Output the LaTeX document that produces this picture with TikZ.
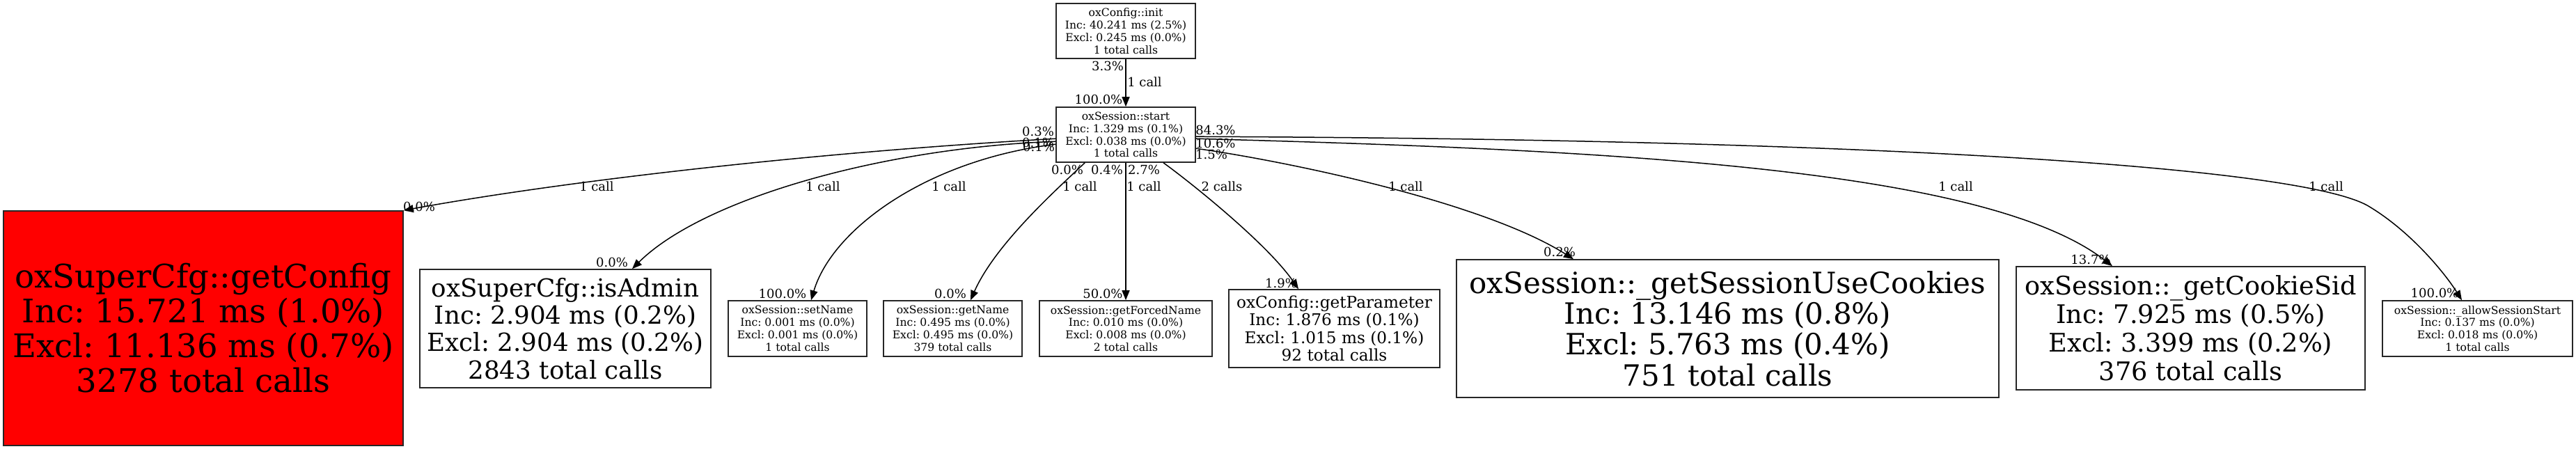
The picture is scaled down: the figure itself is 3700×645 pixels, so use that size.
\documentclass[tikz,border=0pt]{standalone}
\usepackage{fontspec}
\setmainfont{DejaVu Serif}
\frenchspacing
\usetikzlibrary{arrows.meta,calc}
\tikzset{
  box/.style={draw=black!85, line width=1.6pt, inner sep=0pt, align=center, anchor=center},
  fsmall/.style={font=\fontsize{15.6}{17.8}\selectfont},
  fparam/.style={font=\fontsize{23.2}{25.5}\selectfont},
  fcookie/.style={font=\fontsize{36.7}{41}\selectfont},
  fsuc/.style={font=\fontsize{42}{44.4}\selectfont},
  fadmin/.style={font=\fontsize{35.7}{39.3}\selectfont},
  fcfg/.style={font=\fontsize{46.6}{50}\selectfont},
  lbl/.style={font=\fontsize{18}{18}\selectfont, inner sep=0pt, anchor=center},
  edge/.style={line width=1.5pt, -{Triangle[length=14pt,width=11pt]}},
}
\begin{document}
\begin{tikzpicture}[x=1pt,y=-1pt]
\useasboundingbox (0,0) rectangle (3700,645);
\fill[white] (0,0) rectangle (3700,645);
% nodes
\node[box,fsmall,minimum width=200pt,minimum height=79pt] (init) at (1617,44.5)
  {oxConfig::init\\Inc: 40.241 ms (2.5\%)\\Excl: 0.245 ms (0.0\%)\\1 total calls};
\node[box,fsmall,minimum width=200pt,minimum height=79pt] (start) at (1617,193.5)
  {oxSession::start\\Inc: 1.329 ms (0.1\%)\\Excl: 0.038 ms (0.0\%)\\1 total calls};
\node[box,fcfg,fill=red,minimum width=574pt,minimum height=337pt] (getConfig) at (292,471.5)
  {oxSuperCfg::getConfig\\Inc: 15.721 ms (1.0\%)\\Excl: 11.136 ms (0.7\%)\\3278 total calls};
\node[box,fadmin,minimum width=418pt,minimum height=170pt] (isAdmin) at (812,472)
  {oxSuperCfg::isAdmin\\Inc: 2.904 ms (0.2\%)\\Excl: 2.904 ms (0.2\%)\\2843 total calls};
\node[box,fsmall,minimum width=199pt,minimum height=80pt] (setName) at (1145.5,472)
  {oxSession::setName\\Inc: 0.001 ms (0.0\%)\\Excl: 0.001 ms (0.0\%)\\1 total calls};
\node[box,fsmall,minimum width=199pt,minimum height=80pt] (getName) at (1368.5,472)
  {oxSession::getName\\Inc: 0.495 ms (0.0\%)\\Excl: 0.495 ms (0.0\%)\\379 total calls};
\node[box,fsmall,minimum width=248pt,minimum height=80pt] (getForcedName) at (1617,472)
  {oxSession::getForcedName\\Inc: 0.010 ms (0.0\%)\\Excl: 0.008 ms (0.0\%)\\2 total calls};
\node[box,fparam,minimum width=303pt,minimum height=112pt] (getParameter) at (1916.5,472)
  {oxConfig::getParameter\\Inc: 1.876 ms (0.1\%)\\Excl: 1.015 ms (0.1\%)\\92 total calls};
\node[box,fsuc,minimum width=779pt,minimum height=198pt] (getSUC) at (2481.5,472)
  {oxSession::\_getSessionUseCookies\\Inc: 13.146 ms (0.8\%)\\Excl: 5.763 ms (0.4\%)\\751 total calls};
\node[box,fcookie,minimum width=501pt,minimum height=177pt] (getCookieSid) at (3146.5,471.5)
  {oxSession::\_getCookieSid\\Inc: 7.925 ms (0.5\%)\\Excl: 3.399 ms (0.2\%)\\376 total calls};
\node[box,fsmall,minimum width=273pt,minimum height=80pt] (allow) at (3558.5,472)
  {oxSession::\_allowSessionStart\\Inc: 0.137 ms (0.0\%)\\Excl: 0.018 ms (0.0\%)\\1 total calls};
% edges
\draw[edge] (init.south) -- (start.north);
\draw[edge] ($(start.north west)+(0,46)$) .. controls (1150,220) and (800,262) .. (getConfig.north east);
\draw[edge] ($(start.north west)+(0,50)$) .. controls (1270,212) and (1010,285) .. ($(isAdmin.north)+(96,0)$);
\draw[edge] ($(start.north west)+(0,54)$) .. controls (1330,230) and (1195,330) .. ($(setName.north)+(19.5,0)$);
\draw[edge] ($(start.south west)+(42,0)$) .. controls (1520,270) and (1430,350) .. ($(getName.north)+(25.5,0)$);
\draw[edge] (start.south) -- (getForcedName.north);
\draw[edge] ($(start.south)+(54,0)$) .. controls (1710,262) and (1820,350) .. ($(getParameter.north)+(-51.5,0)$);
\draw[edge] ($(start.north east)+(0,60)$) .. controls (1850,232) and (2130,290) .. ($(getSUC.north)+(-221.5,0)$);
\draw[edge] ($(start.north east)+(0,46)$) .. controls (2300,215) and (2850,240) .. ($(getCookieSid.north)+(-112.5,0)$);
\draw[edge] ($(start.north east)+(0,43)$) .. controls (2700,200) and (3300,240) .. (3400,295) .. controls (3460,330) and (3510,390) .. ($(allow.north)+(-22.5,0)$);
% labels
\node[lbl] (l1a) at (1591,95) {3.3\%};
\node[lbl] (l1b) at (1644,118) {1 call};
\node[lbl] (l1c) at (1578,143) {100.0\%};
\node[lbl] (t1) at (1491,189) {0.3\%};
\node[lbl] (t2) at (1491,205) {0.1\%};
\node[lbl] (t3) at (1492,211) {0.1\%};
\node[lbl] (t4) at (1533,244) {0.0\%};
\node[lbl] (t5) at (1590,244) {0.4\%};
\node[lbl] (t6) at (1643,244) {2.7\%};
\node[lbl] (t7) at (1746,187) {84.3\%};
\node[lbl] (t8) at (1746,206) {10.6\%};
\node[lbl] (t9) at (1740,222) {1.5\%};
\node[lbl] (m1) at (857,268) {1 call};
\node[lbl] (m2) at (1182,268) {1 call};
\node[lbl] (m3) at (1363,268) {1 call};
\node[lbl] (m4) at (1551,268) {1 call};
\node[lbl] (m5) at (1643,268) {1 call};
\node[lbl] (m6) at (1755,268) {2 calls};
\node[lbl] (m7) at (2019,268) {1 call};
\node[lbl] (m8) at (2809,268) {1 call};
\node[lbl] (m9) at (3341,268) {1 call};
\node[lbl] (h1) at (602,297) {0.0\%};
\node[lbl] (h2) at (879,377) {0.0\%};
\node[lbl] (h3) at (1124,422) {100.0\%};
\node[lbl] (h4) at (1365,422) {0.0\%};
\node[lbl] (h5) at (1584,422) {50.0\%};
\node[lbl] (h6) at (1840,407) {1.9\%};
\node[lbl] (h7) at (2240,362) {0.2\%};
\node[lbl] (h8) at (3003,373) {13.7\%};
\node[lbl] (h9) at (3497,421) {100.0\%};
\end{tikzpicture}
\end{document}
